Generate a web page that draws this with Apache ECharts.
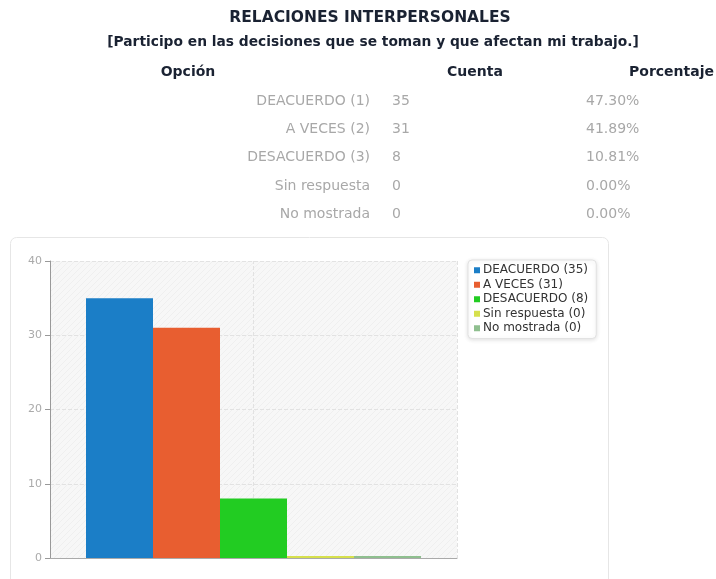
<!DOCTYPE html>
<html>
<head>
<meta charset="utf-8">
<script src="https://cdn.jsdelivr.net/npm/echarts@6/dist/echarts.min.js"></script>
<style>
  html, body { margin: 0; padding: 0; background: #fff; }
  #chart { width: 716px; height: 579px; }
</style>
</head>
<body>
<div id="chart"></div>
<script>
  var titleLines = ['RELACIONES INTERPERSONALES', '[Participo en las decisiones que se toman y que afectan mi trabajo.]'];
  var headers = ['Opción', 'Cuenta', 'Porcentaje'];
  var options = ['DEACUERDO (1)', 'A VECES (2)', 'DESACUERDO (3)', 'Sin respuesta', 'No mostrada'];
  var legendNames = ['DEACUERDO (35)', 'A VECES (31)', 'DESACUERDO (8)', 'Sin respuesta (0)', 'No mostrada (0)'];
  var counts = [35, 31, 8, 0, 0];
  var percents = ['47.30%', '41.89%', '10.81%', '0.00%', '0.00%'];
  var colors = ['#1b7ec7', '#e85e30', '#22cc22', '#d6e04c', '#8fbf8f'];
  var yTicks = [0, 10, 20, 30, 40];

  var font = 'DejaVu Sans';
  var chart = echarts.init(document.getElementById('chart'));

  // faint diagonal hatch for the plot background
  var hatch = document.createElement('canvas');
  hatch.width = 6; hatch.height = 6;
  var hc = hatch.getContext('2d');
  hc.fillStyle = '#f7f7f7';
  hc.fillRect(0, 0, 6, 6);
  hc.strokeStyle = '#efefef';
  hc.lineWidth = 1;
  hc.beginPath();
  hc.moveTo(0, 6); hc.lineTo(6, 0);
  hc.moveTo(-1, 1); hc.lineTo(1, -1);
  hc.moveTo(5, 7); hc.lineTo(7, 5);
  hc.stroke();

  // table above the chart, drawn as text
  var graphics = [
    { type: 'rect', z: -10, shape: { x: 10.5, y: 237.5, width: 598, height: 380, r: 6 },
      style: { fill: '#fff', stroke: '#e6e6e6', lineWidth: 1 } },
    { type: 'text', x: 370, y: 18, style: { text: titleLines[0], font: 'bold 15.5px ' + font, fill: '#1a2232', align: 'center', verticalAlign: 'middle' } },
    { type: 'text', x: 373, y: 42, style: { text: titleLines[1], font: 'bold 13.8px ' + font, fill: '#1a2232', align: 'center', verticalAlign: 'middle' } },
    { type: 'text', x: 188, y: 72, style: { text: headers[0], font: 'bold 14px ' + font, fill: '#1a2232', align: 'center', verticalAlign: 'middle' } },
    { type: 'text', x: 475, y: 72, style: { text: headers[1], font: 'bold 14px ' + font, fill: '#1a2232', align: 'center', verticalAlign: 'middle' } },
    { type: 'text', x: 714, y: 72, style: { text: headers[2], font: 'bold 14px ' + font, fill: '#1a2232', align: 'right', verticalAlign: 'middle' } }
  ];
  for (var i = 0; i < options.length; i++) {
    var y = 101 + i * 28.3;
    graphics.push({ type: 'text', x: 370, y: y, style: { text: options[i], font: '14px ' + font, fill: '#a8a8a8', align: 'right', verticalAlign: 'middle' } });
    graphics.push({ type: 'text', x: 392, y: y, style: { text: String(counts[i]), font: '14px ' + font, fill: '#a8a8a8', align: 'left', verticalAlign: 'middle' } });
    graphics.push({ type: 'text', x: 586, y: y, style: { text: percents[i], font: '14px ' + font, fill: '#a8a8a8', align: 'left', verticalAlign: 'middle' } });
  }

  var series = [];
  for (var k = 0; k < counts.length; k++) {
    series.push({
      name: legendNames[k],
      type: 'bar',
      data: [counts[k]],
      barWidth: 67,
      barGap: '0%',
      barMinHeight: 2,
      itemStyle: { color: colors[k] }
    });
  }
  // dashed vertical guide through the category centre (middle bar), behind the bars
  series[2].markLine = {
    silent: true, z: 1, symbol: 'none',
    label: { show: false },
    lineStyle: { color: '#e2e2e2', type: 'dashed', width: 1 },
    data: [{ xAxis: 0 }]
  };

  var option = {
    animation: false,
    color: colors,
    textStyle: { fontFamily: font },
    graphic: graphics,
    grid: {
      left: 50, right: 259, top: 261, bottom: 21,
      show: true, backgroundColor: { image: hatch, repeat: 'repeat' }, borderWidth: 0
    },
    legend: {
      orient: 'vertical',
      left: 468, top: 260,
      padding: [3, 8, 3, 6],
      itemWidth: 6, itemHeight: 6, itemGap: 0,
      icon: 'rect',
      backgroundColor: '#fff',
      borderColor: '#e2e2e2', borderWidth: 1, borderRadius: 4,
      shadowColor: 'rgba(0,0,0,0.12)', shadowBlur: 4, shadowOffsetY: 1,
      textStyle: { fontSize: 12, color: '#333', lineHeight: 14.5, padding: [0, 0, 0, -2] },
      data: legendNames
    },
    xAxis: {
      type: 'category',
      data: [''],
      axisLine: { lineStyle: { color: '#aaa' } },
      axisTick: { show: false },
      axisLabel: { show: false },
      splitLine: { show: true, lineStyle: { color: '#e2e2e2', type: 'dashed' } }
    },
    yAxis: {
      type: 'value',
      min: yTicks[0], max: yTicks[yTicks.length - 1], interval: 10,
      axisLine: { show: true, lineStyle: { color: '#999' } },
      axisTick: { show: true, length: 5, lineStyle: { color: '#999' } },
      axisLabel: { color: '#aaa', fontSize: 11, margin: 8 },
      splitLine: { lineStyle: { color: '#e2e2e2', type: 'dashed' } }
    },
    series: series
  };

  chart.setOption(option);
</script>
</body>
</html>
